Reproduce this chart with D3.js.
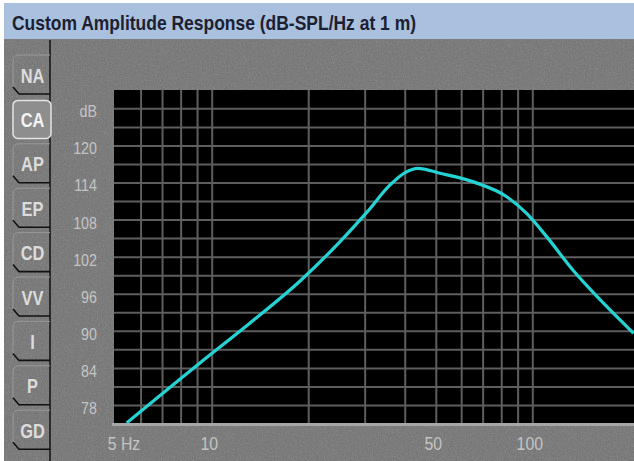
<!DOCTYPE html>
<html>
<head>
<meta charset="utf-8">
<script src="https://cdn.jsdelivr.net/npm/d3@7"></script>
<style>
  html, body { margin: 0; padding: 0; background: #ffffff; }
  svg { display: block; }
</style>
</head>
<body>
<svg id="ampChart"></svg>
<script>
// chart values
const titleText = "Custom Amplitude Response (dB-SPL/Hz at 1 m)";
const tabLabels = ["NA", "CA", "AP", "EP", "CD", "VV", "I", "P", "GD"];
const selectedTab = "CA";

const freqHz = [5.43, 9.19, 13.2, 18.9, 25.1, 30.5, 36.0, 40.1, 44.0, 51.5, 65.5, 83.2, 96, 111, 134, 163, 207];
const splDb = [75.1, 84.8, 91.3, 98.1, 104.4, 109.2, 113.6, 115.6, 116.3, 115.5, 114.1, 111.7, 109.0, 105.2, 99.8, 95.0, 89.6];

const yTickValues = [126, 120, 114, 108, 102, 96, 90, 84, 78];
const yGridValues = [78, 81, 84, 87, 90, 93, 96, 99, 102, 105, 108, 111, 114, 117, 120, 123, 126];
const xTickValues = [5, 10, 50, 100];
const xGridValues = [6, 7, 8, 9, 10, 20, 30, 40, 50, 60, 70, 80, 90, 100];

function getChartConfig() {
  const dimensions = {
    width: 634,
    height: 461,
    titleHeight: 39,
    plot: { left: 114, top: 90, right: 640, bottom: 423 }
  };
  const svg = d3.select("#ampChart")
    .attr("width", dimensions.width)
    .attr("height", dimensions.height);
  return { svg, dimensions };
}

function getScales(config) {
  const xScale = d3.scaleLog().domain([5, 100]).range([115.2, 532.3]);
  const yScale = d3.scaleLinear().domain([75, 129]).range([423.5, 89.8]);
  return { xScale, yScale };
}

// text in the picture is horizontally squeezed, so shrink glyph widths
function squeeze(sel, k) {
  sel.each(function () {
    const w = this.getComputedTextLength();
    d3.select(this).attr("textLength", w * k).attr("lengthAdjust", "spacingAndGlyphs");
  });
}

function drawBackground(config) {
  const { svg, dimensions } = config;
  const defs = svg.append("defs");

  const grain = defs.append("filter").attr("id", "grain")
    .attr("x", 0).attr("y", 0).attr("width", "100%").attr("height", "100%");
  grain.append("feTurbulence")
    .attr("type", "fractalNoise")
    .attr("baseFrequency", 0.75)
    .attr("numOctaves", 2)
    .attr("seed", 7);
  grain.append("feColorMatrix").attr("type", "saturate").attr("values", 0);

  defs.append("clipPath").attr("id", "plotClip")
    .append("rect")
    .attr("x", dimensions.plot.left)
    .attr("y", dimensions.plot.top)
    .attr("width", dimensions.plot.right - dimensions.plot.left)
    .attr("height", dimensions.plot.bottom - dimensions.plot.top);

  // title bar
  svg.append("rect")
    .attr("x", 4).attr("y", 3)
    .attr("width", dimensions.width - 4).attr("height", dimensions.titleHeight - 3)
    .attr("fill", "#a9c1de");

  svg.append("text")
    .attr("x", 12).attr("y", 30)
    .attr("font-family", "Arial, 'Liberation Sans', sans-serif")
    .attr("font-weight", "bold")
    .attr("font-size", 21)
    .attr("fill", "#1c2030")
    .attr("textLength", 404)
    .attr("lengthAdjust", "spacingAndGlyphs")
    .text(titleText);

  // stucco grey panel
  svg.append("rect")
    .attr("x", 4).attr("y", dimensions.titleHeight)
    .attr("width", dimensions.width - 4).attr("height", dimensions.height - dimensions.titleHeight)
    .attr("fill", "#6f6f6f");
  svg.append("rect")
    .attr("x", 4).attr("y", dimensions.titleHeight)
    .attr("width", dimensions.width - 4).attr("height", dimensions.height - dimensions.titleHeight)
    .attr("filter", "url(#grain)")
    .attr("opacity", 0.35);
}

function drawTabs(config) {
  const { svg, dimensions } = config;
  const tabScale = d3.scalePoint().domain(tabLabels).range([75, 430.2]);
  const x0 = 13, x1 = 50, h = 40;

  // divider line to the right of the tabs
  svg.append("line")
    .attr("x1", x1).attr("x2", x1)
    .attr("y1", dimensions.titleHeight + 1).attr("y2", dimensions.height)
    .attr("stroke", "#111").attr("stroke-width", 1.5);

  const tabs = svg.append("g").selectAll("g").data(tabLabels).enter().append("g")
    .attr("transform", d => `translate(0,${tabScale(d) - h / 2})`);

  tabs.each(function (d) {
    const g = d3.select(this);
    if (d === selectedTab) {
      g.append("rect")
        .attr("x", x0).attr("y", 1).attr("width", x1 - x0 + 1).attr("height", h - 2)
        .attr("rx", 5)
        .attr("fill", "#8e8e8e")
        .attr("stroke", "#e4e4e4").attr("stroke-width", 1.5);
    } else {
      g.append("path")
        .attr("d", `M${x1},0 L${x0 + 6},0 Q${x0},0 ${x0},6 L${x0},${h - 8}`)
        .attr("fill", "none")
        .attr("stroke", "#999").attr("stroke-width", 1);
      g.append("path")
        .attr("d", `M${x0},${h - 8} L${x0 + 6},${h - 1} L${x1},${h - 1}`)
        .attr("fill", "none")
        .attr("stroke", "#111").attr("stroke-width", 1.6);
    }
    const t = g.append("text")
      .attr("x", (x0 + x1) / 2 + 1)
      .attr("y", h / 2 + 7.5)
      .attr("text-anchor", "middle")
      .attr("font-family", "Arial, 'Liberation Sans', sans-serif")
      .attr("font-weight", "bold")
      .attr("font-size", 20.5)
      .attr("fill", d === selectedTab ? "#f4f4f4" : "#dcdcdc")
      .text(d);
    squeeze(t, 0.8);
  });
}

function drawPlotArea(config, scales) {
  const { svg, dimensions } = config;
  const { xScale, yScale } = scales;
  const p = dimensions.plot;

  svg.append("rect")
    .attr("x", p.left).attr("y", p.top)
    .attr("width", p.right - p.left).attr("height", p.bottom - p.top)
    .attr("fill", "#000");

  const grid = svg.append("g").attr("clip-path", "url(#plotClip)");

  grid.append("g")
    .attr("transform", `translate(${p.left},0)`)
    .call(d3.axisLeft(yScale).tickValues(yGridValues).tickSize(-(p.right - p.left)).tickFormat(""))
    .call(g => g.select(".domain").remove())
    .call(g => g.selectAll("line").attr("stroke", "#5e5e5e").attr("stroke-width", 2));

  grid.append("g")
    .attr("transform", `translate(0,${p.bottom})`)
    .call(d3.axisBottom(xScale).tickValues(xGridValues).tickSize(-(p.bottom - p.top)).tickFormat(""))
    .call(g => g.select(".domain").remove())
    .call(g => g.selectAll("line").attr("stroke", "#5e5e5e").attr("stroke-width", 2));

  // light baseline under the plot
  svg.append("rect")
    .attr("x", p.left - 2).attr("y", p.bottom)
    .attr("width", dimensions.width - p.left + 2).attr("height", 3)
    .attr("fill", "#a6a6a6");
}

function drawAxes(config, scales) {
  const { svg, dimensions } = config;
  const { xScale, yScale } = scales;
  const labelFont = "Arial, 'Liberation Sans', sans-serif";

  const axisY = svg.append("g")
    .attr("transform", "translate(97,3)")
    .call(d3.axisLeft(yScale).tickValues(yTickValues).tickSize(0).tickPadding(0)
      .tickFormat(d => (d === 126 ? "dB" : d)));
  axisY.select(".domain").remove();
  axisY.selectAll("text")
    .attr("font-family", labelFont)
    .attr("font-size", 17)
    .attr("fill", "#c4c4c4")
    .call(s => squeeze(s, 0.84));

  const axisX = svg.append("g")
    .attr("transform", `translate(0,${dimensions.plot.bottom})`)
    .call(d3.axisBottom(xScale).tickValues(xTickValues).tickSize(0).tickPadding(14)
      .tickFormat(d => (d === 5 ? "5 Hz" : d)));
  axisX.select(".domain").remove();
  axisX.selectAll("text")
    .attr("font-family", labelFont)
    .attr("font-size", 18)
    .attr("fill", "#c4c4c4")
    .attr("dx", -3)
    .call(s => squeeze(s, 0.88));
  axisX.selectAll("text").filter(d => d === 5)
    .attr("text-anchor", "start")
    .attr("dx", -8);
}

function drawCurve(config, scales) {
  const { svg } = config;
  const { xScale, yScale } = scales;
  const points = freqHz.map((f, i) => ({ f, db: splDb[i] }));

  const line = d3.line()
    .x(d => xScale(d.f))
    .y(d => yScale(d.db))
    .curve(d3.curveMonotoneX);

  svg.append("g").attr("clip-path", "url(#plotClip)")
    .append("path")
    .datum(points)
    .attr("d", line)
    .attr("fill", "none")
    .attr("stroke", "#24d4d4")
    .attr("stroke-width", 3.2)
    .attr("stroke-linejoin", "round");
}

function renderAmplitudeChart() {
  const config = getChartConfig();
  const scales = getScales(config);
  drawBackground(config);
  drawTabs(config);
  drawPlotArea(config, scales);
  drawAxes(config, scales);
  drawCurve(config, scales);
}

renderAmplitudeChart();
</script>
</body>
</html>
